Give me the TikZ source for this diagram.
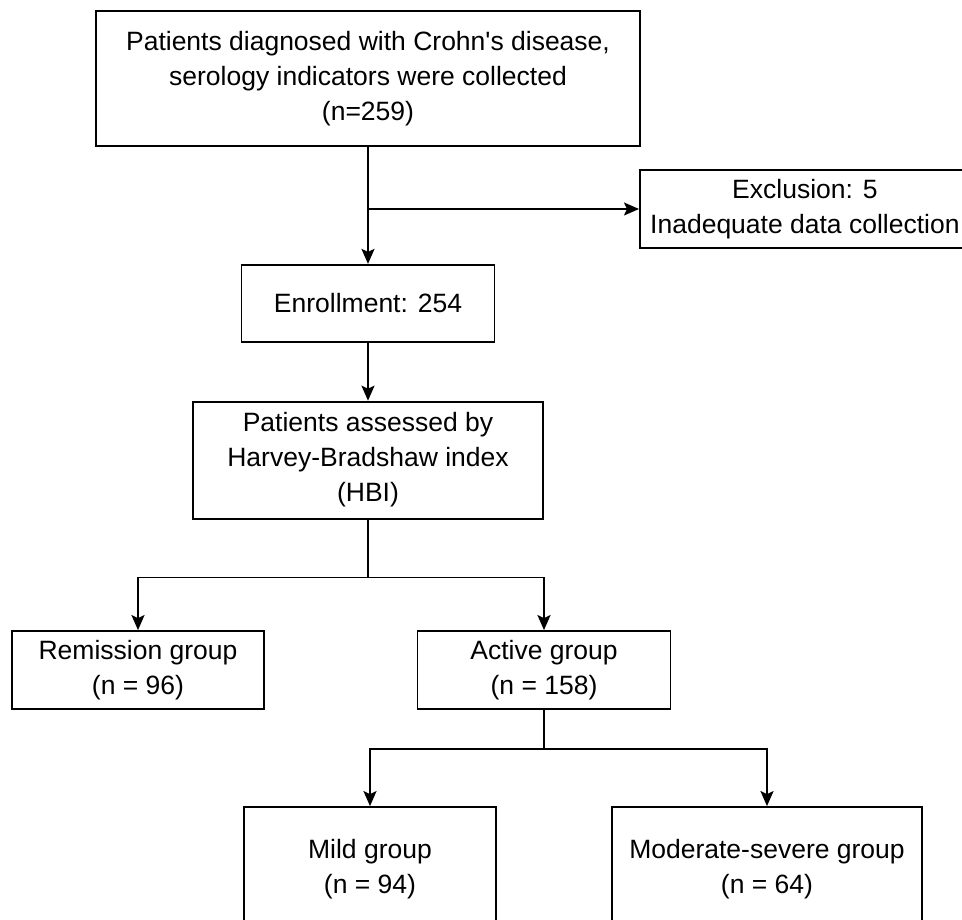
\documentclass[tikz,border=0pt]{standalone}
\usepackage{fontspec}
\setmainfont{Liberation Sans}[Ligatures=TeXOff]
\usetikzlibrary{arrows.meta,positioning,calc}

\begin{document}
\begin{tikzpicture}[
  x=1pt, y=1pt,
  font=\fontsize{26.5}{35}\selectfont,
  node distance=58pt and 20pt,
  flowbox/.style={draw, line width=1.8pt, align=center, inner sep=0pt, fill=white},
  arrow/.style={-{Stealth[length=15pt, width=13pt, inset=3pt]}, line width=1.8pt},
  bus/.style={line width=1.8pt}
]
  \useasboundingbox (0,0) rectangle (962,-920);
  \clip (0,0) rectangle (962,-920);

  \node[flowbox, minimum width=544pt, minimum height=135pt] (collect) at (368,-78.5) {Patients diagnosed with Crohn's disease,\\serology indicators were collected\\(n=259)};
  \node[flowbox, minimum width=330pt, minimum height=78pt, anchor=west] (exclude) at (639,-209) {Exclusion: 5\\Inadequate data collection};
  \node[flowbox, minimum width=253pt, minimum height=77pt, below=117pt of collect] (enroll) {Enrollment: 254};
  \node[flowbox, minimum width=350pt, minimum height=117pt, below=58pt of enroll] (hbi) {Patients assessed by\\Harvey-Bradshaw index\\(HBI)};

  \node[flowbox, minimum width=252pt, minimum height=78pt] (remission) at (138,-670) {Remission group\\(n = 96)};
  \node[flowbox, minimum width=253pt, minimum height=78pt] (active) at (544,-670) {Active group\\(n = 158)};

  \node[flowbox, minimum width=252pt, minimum height=124pt] (mild) at (370,-869) {Mild group\\(n = 94)};
  \node[flowbox, minimum width=310pt, minimum height=124pt] (severe) at (767,-869) {Moderate-severe group\\(n = 64)};

  \draw[arrow] (collect.south) -- (enroll.north);
  \draw[arrow] (collect.south |- exclude.west) -- (exclude.west);
  \draw[arrow] (enroll.south) -- (hbi.north);

  \coordinate (split1) at ($(hbi.south)+(0,-58)$);
  \draw[bus] (hbi.south) -- (split1);
  \draw[arrow] (split1) -| (remission.north);
  \draw[arrow] (split1) -| (active.north);

  \coordinate (split2) at ($(active.south)+(0,-39)$);
  \draw[bus] (active.south) -- (split2);
  \draw[arrow] (split2) -| (mild.north);
  \draw[arrow] (split2) -| (severe.north);
\end{tikzpicture}
\end{document}
